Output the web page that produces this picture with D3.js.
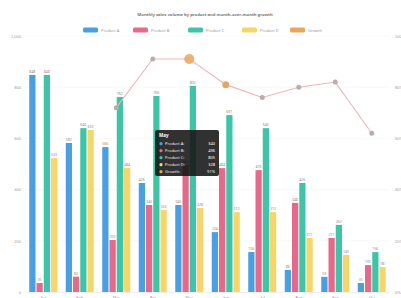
<!DOCTYPE html>
<html>
<head>
<meta charset="utf-8">
<script src="https://cdn.jsdelivr.net/npm/d3@7"></script>
<style>
    body { margin: 0; background: #fff; font-family: "Noto Sans", sans-serif; }
    svg { display: block; }
</style>
</head>
<body>
<div id="chart"></div>
<script>
// data
let categories = ["Jan", "Feb", "Mar", "Apr", "May", "Jun", "Jul", "Aug", "Sep", "Oct"];
let seriesNames = ["Product A", "Product B", "Product C", "Product D", "Growth"];
let productA = [848, 582, 566, 426, 340, 234, 156, 86, 59, 35];
let productB = [35, 60, 203, 340, 496, 484, 476, 348, 211, 105];
let productC = [848, 640, 762, 766, 805, 691, 640, 426, 262, 156];
let productD = [523, 633, 484, 320, 328, 312, 312, 211, 145, 98];
let growth = [null, null, 72, 91, 91, 81, 76, 80, 82, 62];
let leftTicks = [0, 200, 400, 600, 800, 1000];
let rightTicks = [0, 20, 40, 60, 80, 100];
let colors = ["#4a9fe3", "#e5698a", "#40c4a8", "#f6d66b", "#e9a45f"];
let hoverIndex = 4;

let width = 401, height = 298;
let margin = {top: 36, right: 11, bottom: 6, left: 25};

let svg = d3.select("#chart").append("svg")
    .attr("width", width)
    .attr("height", height);

// scales
let x = d3.scaleBand().domain(categories).range([margin.left, width - margin.right]);
let yLeft = d3.scaleLinear().domain([0, 1000]).range([height - margin.bottom, margin.top]);
let yRight = d3.scaleLinear().domain([0, 100]).range([height - margin.bottom, margin.top]);
let bars = [productA, productB, productC, productD];
let xInner = d3.scaleBand().domain(d3.range(bars.length)).range([-14, 14]).paddingInner(0.14);

// grid lines
svg.append("g")
    .selectAll("line")
    .data(leftTicks)
    .join("line")
    .attr("x1", margin.left)
    .attr("x2", width - margin.right)
    .attr("y1", d => yLeft(d))
    .attr("y2", d => yLeft(d))
    .attr("stroke", "#f1f1f1")
    .attr("stroke-width", 0.5);

// left axis
let leftAxis = svg.append("g")
    .attr("transform", "translate(" + margin.left + ",0)")
    .call(d3.axisLeft(yLeft).tickValues(leftTicks).tickSize(0).tickPadding(4).tickFormat(d3.format(",")));
leftAxis.select(".domain").remove();
leftAxis.selectAll("text").attr("fill", "#9a9a9a").style("font-size", "4px");

// right axis (labels run into the window edge, as in the picture)
let rightAxis = svg.append("g")
    .attr("transform", "translate(" + (width - margin.right) + ",0)")
    .call(d3.axisRight(yRight).tickValues(rightTicks).tickSize(0).tickPadding(5).tickFormat(d => d + "%"));
rightAxis.select(".domain").remove();
rightAxis.selectAll("text").attr("fill", "#9a9a9a").style("font-size", "4px");

// bottom axis, labels fall mostly below the window
let bottomAxis = svg.append("g")
    .attr("transform", "translate(0," + yLeft(0) + ")")
    .call(d3.axisBottom(x).tickSize(0).tickPadding(4));
bottomAxis.select(".domain").attr("stroke", "#e4e4e4").attr("stroke-width", 0.5);
bottomAxis.selectAll("text").attr("fill", "#9a9a9a").style("font-size", "4px");

// grouped bars
bars.forEach((values, s) => {
    let g = svg.append("g");
    let bw = xInner.bandwidth();
    g.selectAll("rect")
        .data(values)
        .join("rect")
        .attr("x", (d, i) => x(categories[i]) + x.bandwidth() / 2 + xInner(s))
        .attr("y", d => yLeft(d))
        .attr("width", bw)
        .attr("height", d => yLeft(0) - yLeft(d))
        .attr("fill", colors[s]);
    // value labels
    g.selectAll("text")
        .data(values)
        .join("text")
        .attr("x", (d, i) => x(categories[i]) + x.bandwidth() / 2 + xInner(s) + bw / 2)
        .attr("y", d => yLeft(d) - 2)
        .attr("text-anchor", "middle")
        .attr("fill", "#888")
        .style("font-size", "3.5px")
        .text(d => d);
});

// growth line on the right axis
let cx = (d, i) => x(categories[i]) + x.bandwidth() / 2;
let line = d3.line().defined(d => d != null).x(cx).y(d => yRight(d));
svg.append("path")
    .datum(growth)
    .attr("d", line)
    .attr("fill", "none")
    .attr("stroke", "#f2b3bd")
    .attr("stroke-width", 1.1);

svg.append("g")
    .selectAll("circle")
    .data(growth.map((v, i) => ({v: v, i: i})).filter(d => d.v != null))
    .join("circle")
    .attr("cx", d => cx(d.v, d.i))
    .attr("cy", d => yRight(d.v))
    .attr("r", d => d.i === hoverIndex ? 5 : (d.i === hoverIndex + 1 ? 3.5 : 2.5))
    .attr("fill", d => d.i === hoverIndex || d.i === hoverIndex + 1 ? colors[4] : "#b8aeab")
    .attr("opacity", d => d.i === hoverIndex ? 0.85 : 1);

// title
svg.append("text")
    .attr("x", 205)
    .attr("y", 16)
    .attr("text-anchor", "middle")
    .attr("fill", "#777")
    .style("font-size", "4.2px")
    .style("font-weight", "bold")
    .text("Monthly sales volume by product and month-over-month growth");

// legend
let legendX = [83, 133, 188, 242, 290];
let legend = svg.append("g");
seriesNames.forEach((name, i) => {
    let item = legend.append("g").attr("transform", "translate(" + legendX[i] + ",30)");
    item.append("rect")
        .attr("x", 0).attr("y", -2.5)
        .attr("width", 15).attr("height", 5)
        .attr("rx", 1.5)
        .attr("fill", colors[i]);
    item.append("text")
        .attr("x", 18).attr("y", 1.5)
        .attr("fill", "#999")
        .style("font-size", "4px")
        .text(name);
});

// tooltip for the hovered month
let tipX = 155, tipY = 130;
let tip = svg.append("g").attr("transform", "translate(" + tipX + "," + tipY + ")");
tip.append("rect")
    .attr("width", 64).attr("height", 46)
    .attr("rx", 2)
    .attr("fill", "rgba(20,20,20,0.88)");
tip.append("text")
    .attr("x", 4).attr("y", 7)
    .attr("fill", "#fff")
    .style("font-size", "4.5px")
    .style("font-weight", "bold")
    .text(categories[hoverIndex]);
let tipValues = [productA, productB, productC, productD].map(v => v[hoverIndex]).concat([growth[hoverIndex] + "%"]);
seriesNames.forEach((name, i) => {
    let ty = 15 + i * 7;
    tip.append("circle").attr("cx", 6).attr("cy", ty - 1.3).attr("r", 1.6).attr("fill", colors[i]);
    tip.append("text")
        .attr("x", 10).attr("y", ty)
        .attr("fill", "#eee")
        .style("font-size", "4px")
        .text(name + ":");
    tip.append("text")
        .attr("x", 60).attr("y", ty)
        .attr("text-anchor", "end")
        .attr("fill", "#fff")
        .style("font-size", "4px")
        .text(tipValues[i]);
});
</script>
</body>
</html>
